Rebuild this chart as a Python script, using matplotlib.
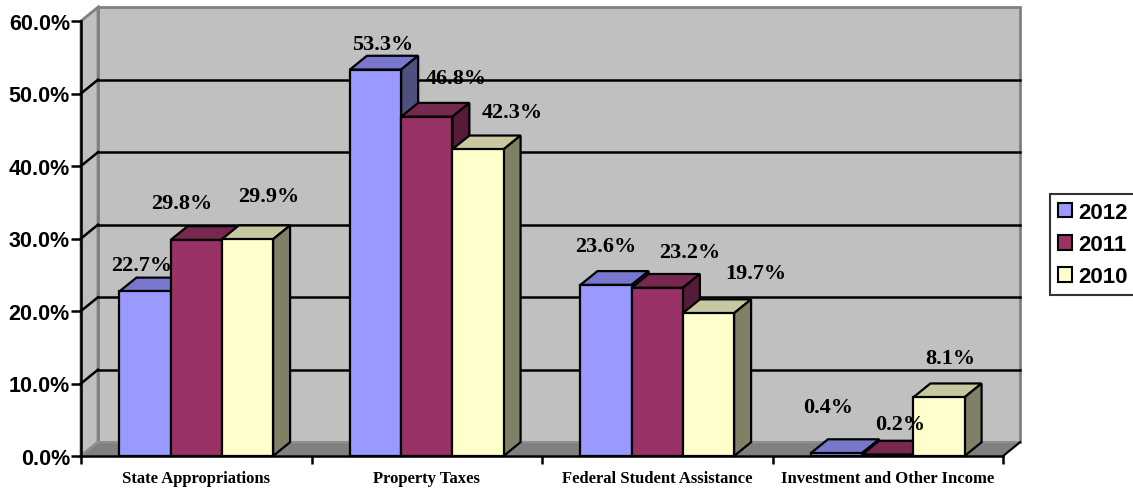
import matplotlib
matplotlib.use("Agg")
import matplotlib.pyplot as plt
from matplotlib.patches import Polygon, Patch
from matplotlib.ticker import FuncFormatter
import numpy as np

# data
categories = ["State Appropriations", "Property Taxes",
              "Federal Student Assistance", "Investment and Other Income"]
years = ["2012", "2011", "2010"]
pct_2012 = [22.7, 53.3, 23.6, 0.4]
pct_2011 = [29.8, 46.8, 23.2, 0.2]
pct_2010 = [29.9, 42.3, 19.7, 8.1]

# style
front_cols = ["#9999FF", "#993366", "#FFFFCC"]
top_cols = ["#7777CC", "#76284F", "#C8C8A0"]
side_cols = ["#50507F", "#561A3A", "#808066"]

# label nudges (pixels, relative to bar front top centre) - excel puts them oddly
label_nudge = [
    [(-3, 26), (7, 26), (0, 39), (-8, 46)],
    [(-14, 37), (30, 39), (32, 36), (12, 31)],
    [(21, 43), (34, 37), (47, 40), (11, 39)],
]

W, H = 1133, 489
fig = plt.figure(figsize=(W / 100, H / 100), dpi=100)
# front plane: x 0..4 -> px 81..1003, y 0..60 -> px 457..22
ax = fig.add_axes([81 / W, (H - 457) / H, 922 / W, 435 / H])
ax.set_xlim(0, 4)
ax.set_ylim(0, 60)

dx = 17 / 230.5   # depth offset in category units
dy = 13.8 / 7.25  # depth offset in percent
ymax = 60
ncat = len(categories)

# walls and floor
back = Polygon([(dx, dy), (ncat + dx, dy), (ncat + dx, ymax + dy), (dx, ymax + dy)],
               closed=True, fc="#C0C0C0", ec="#808080", lw=2, clip_on=False, zorder=0)
side = Polygon([(0, 0), (dx, dy), (dx, ymax + dy), (0, ymax)],
               closed=True, fc="#C0C0C0", ec="#808080", lw=2, clip_on=False, zorder=0)
floor = Polygon([(0, 0), (ncat, 0), (ncat + dx, dy), (dx, dy)],
                closed=True, fc="#808080", ec="#909090", lw=1.5, clip_on=False, zorder=0.5)
for p in (back, side, floor):
    ax.add_patch(p)
ax.plot([ncat, ncat + dx], [0, dy], color="black", lw=1.5, clip_on=False, zorder=0.6)

# gridlines
for g in range(10, 60, 10):
    ax.plot([dx, ncat + dx], [g + dy, g + dy], color="black", lw=1.8, clip_on=False, zorder=0.7)
    ax.plot([0, dx], [g, g + dy], color="black", lw=1.8, clip_on=False, zorder=0.7)

# bars
series = [pct_2012, pct_2011, pct_2010]
group = 1 / 1.5
bw = group / len(series)
x = np.arange(ncat)
z = 1
for ci in range(ncat):
    for si, vals in enumerate(series):
        v = vals[ci]
        left = ci + (1 - group) / 2 + si * bw
        ax.bar(left, v, width=bw, align="edge", color=front_cols[si],
               edgecolor="black", lw=1.6, zorder=z + 0.2, clip_on=False)
        top = Polygon([(left, v), (left + bw, v), (left + bw + dx, v + dy), (left + dx, v + dy)],
                      closed=True, fc=top_cols[si], ec="black", lw=1.6, zorder=z, clip_on=False)
        sd = Polygon([(left + bw, 0), (left + bw + dx, dy), (left + bw + dx, v + dy), (left + bw, v)],
                     closed=True, fc=side_cols[si], ec="black", lw=1.6, zorder=z + 0.1, clip_on=False)
        ax.add_patch(top)
        ax.add_patch(sd)
        z += 1

# data labels
for si, vals in enumerate(series):
    for ci, v in enumerate(vals):
        cx = ci + (1 - group) / 2 + (si + 0.5) * bw
        ox, oy = label_nudge[si][ci]
        ax.annotate(f"{v:.1f}%", (cx, v), xytext=(ox, oy), textcoords="offset pixels",
                    ha="center", va="center", fontsize=16, fontweight="bold",
                    family="Liberation Serif", zorder=100, annotation_clip=False)

# axes
for s in ("top", "right"):
    ax.spines[s].set_visible(False)
ax.spines["left"].set_linewidth(1.8)
ax.spines["bottom"].set_linewidth(1.8)
ax.spines["left"].set_zorder(0.8)
ax.spines["bottom"].set_zorder(0.8)
ax.patch.set_visible(False)

ax.set_yticks(range(0, 61, 10))
ax.yaxis.set_major_formatter(FuncFormatter(lambda v, p: f"{v:.1f}%"))
ax.tick_params(axis="y", length=7, width=1.8, pad=1, labelsize=15.5)
for t in ax.get_yticklabels():
    t.set_fontweight("bold")
    t.set_family("Liberation Sans")

ax.set_xticks(range(ncat + 1))
ax.set_xticklabels([])
ax.set_xticks(x + 0.5, minor=True)
ax.set_xticklabels(categories, minor=True)
ax.tick_params(axis="x", which="major", length=6, width=1.8)
ax.tick_params(axis="x", which="minor", length=0, pad=10, labelsize=12)
for t in ax.get_xticklabels(minor=True):
    t.set_fontweight("bold")
    t.set_family("Liberation Serif")

# legend
handles = [Patch(fc=c, ec="black", lw=1.5) for c in front_cols]
leg = fig.legend(handles, years, loc="upper left", bbox_to_anchor=(1050 / W, 1 - 195 / H),
                 frameon=True, fancybox=False, edgecolor="black",
                 prop={"family": "Liberation Sans", "weight": "bold", "size": 16},
                 handlelength=0.65, handleheight=0.65, handletextpad=0.25,
                 labelspacing=0.5, borderpad=0.35, borderaxespad=0)
leg.get_frame().set_linewidth(1.5)

fig.savefig("out.png", dpi=100)
